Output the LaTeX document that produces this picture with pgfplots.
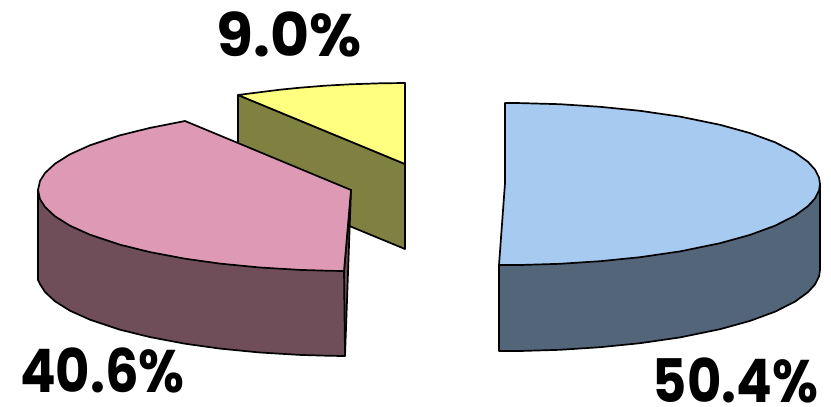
\documentclass[border=0pt]{standalone}
\usepackage{pgfplots}
\pgfplotsset{compat=1.18}
\usepackage{fontspec}
\setmainfont{Poppins}
\definecolor{yellowtop}{HTML}{FFFF80}
\definecolor{yellowside}{HTML}{808040}
\definecolor{pinktop}{HTML}{DE9AB4}
\definecolor{pinkside}{HTML}{6F4E5A}
\definecolor{bluetop}{HTML}{A6CAF0}
\definecolor{blueside}{HTML}{536579}
\newcommand{\share}[1]{{\fontsize{60bp}{60bp}\selectfont\bfseries #1}}
\begin{document}
\begin{tikzpicture}[x=1bp,y=1bp]
\useasboundingbox (0,0) rectangle (831,406);
\begin{axis}[
  at={(0,0)},anchor=south west,
  scale only axis,width=831bp,height=406bp,
  xmin=0,xmax=831,ymin=0,ymax=406,y dir=reverse,
  hide axis,clip=false,
  every axis plot/.append style={draw=black,line width=1.7bp,line join=round,mark=none},
]
% 9.0% slice, pulled away to the back
\addplot[fill=yellowside] coordinates {(238,95)(405,164)(405,249)(238,180)} -- cycle;
\addplot[fill=yellowtop] coordinates {
  (238,95)(260,92.2)(280,89.7)(300,87.7)(325,85.7)(350,84.3)(380,83.3)(405,83)(405,164)} -- cycle;
% 40.6% slice
\addplot[fill=pinkside] coordinates {
  (351,190)(345,356)(330,355.8)(300,354.9)(260,352.5)(220,348.6)(185,343.7)(150,337.1)(120,329.7)(90,319.7)(70,310.7)(55,301.3)(45,292)(40,284.1)(38,280)(38,190)(344,271)} -- cycle;
\addplot[fill=pinktop] coordinates {
  (185,121)(351,190)(344,271)(330,270.8)(300,269.9)(260,267.5)(220,263.6)(185,258.7)(150,252.1)(120,244.7)(90,234.7)(70,225.7)(55,216.3)(45,207)(40,199.1)(38,190)(40,180.9)(45,173)(55,163.7)(70,154.3)(90,145.3)(120,135.3)(150,127.9)} -- cycle;
\addplot[draw=black] coordinates {(344,271)(345,356)};
% 50.4% slice
\addplot[fill=blueside] coordinates {
  (499,265)(820,184)(820,270)(819,276.5)(815,284.4)(808,292.1)(795,301.6)(775,311.7)(750,320.9)(720,329.2)(680,337.4)(640,343.2)(600,347.2)(560,349.8)(520,351)(499,351)} -- cycle;
\addplot[fill=bluetop] coordinates {
  (505,103)(520,103.1)(560,104.2)(600,106.8)(640,110.8)(680,116.6)(720,124.8)(750,133.1)(775,142.3)(795,152.4)(808,161.9)(815,169.6)(819,177.5)(820,184)(819,190.5)(815,198.4)(808,206.1)(795,215.6)(775,225.7)(750,234.9)(720,243.2)(680,251.4)(640,257.2)(600,261.2)(560,263.8)(520,265)(499,265)(505,183)} -- cycle;
% share labels
\node[anchor=base,inner sep=0pt] at (axis cs:289,56) {\share{9.0\%}};
\node[anchor=base,inner sep=0pt,xscale=0.88] at (axis cs:102.5,392) {\share{40.6\%}};
\node[anchor=base,inner sep=0pt,xscale=0.88] at (axis cs:735.5,402) {\share{50.4\%}};
\end{axis}
\end{tikzpicture}
\end{document}
